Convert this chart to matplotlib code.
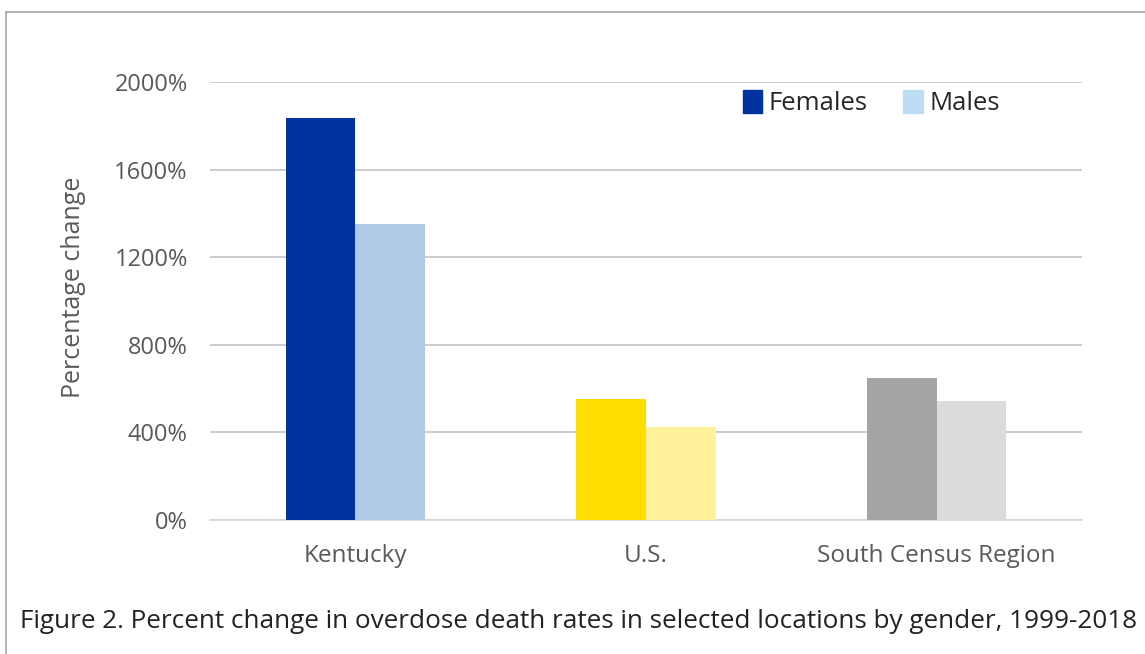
import matplotlib.pyplot as plt
import numpy as np
from matplotlib.patches import Patch

plt.rcParams['font.family'] = ['Open Sans', 'DejaVu Sans']

locations = ['Kentucky', 'U.S.', 'South Census Region']
females = [1835, 552, 648]
males = [1352, 425, 543]
female_colors = ['#0033a0', '#ffdd00', '#a5a5a5']
male_colors = ['#b0cae8', '#fff29a', '#dbdbdd']
yticks = [0, 400, 800, 1200, 1600, 2000]

fig = plt.figure(figsize=(11.45, 6.54), dpi=100)
ax = fig.add_axes([210 / 1145, 1 - 520 / 654, 872 / 1145, 438 / 654])

x = np.arange(len(locations))
w = 0.24
ax.bar(x - w / 2, females, w, color=female_colors, zorder=3)
ax.bar(x + w / 2, males, w, color=male_colors, zorder=3)

ax.set_xlim(-0.5, 2.5)
ax.set_ylim(0, 2000)
ax.set_yticks(yticks)
ax.set_yticklabels(['%d%%' % t for t in yticks])
ax.set_xticks(x)
ax.set_xticklabels(locations)
ax.grid(axis='y', color='#c8c8c8', linewidth=1.3, zorder=0)
for s in ['top', 'right', 'left']:
    ax.spines[s].set_visible(False)
ax.spines['bottom'].set_color('#d9d9d9')
ax.spines['bottom'].set_linewidth(1.3)
ax.tick_params(axis='y', length=0, labelsize=17, colors='#595959', pad=16)
ax.tick_params(axis='x', length=0, labelsize=17.5, colors='#595959', pad=17)
ax.set_ylabel('Percentage change', fontsize=18, color='#595959')
ax.yaxis.set_label_coords(-124 / 872, (520 - 287) / 438)

handles = [Patch(color='#0033a0', label='Females'), Patch(color='#bdddf2', label='Males')]
ax.legend(handles=handles, loc='upper right', bbox_to_anchor=(0.932, 1.035), ncol=2,
          frameon=False, fontsize=18.5, handlelength=0.75, handleheight=1.0,
          handletextpad=0.25, columnspacing=1.4, labelcolor='#262626')

fig.text(20 / 1145, 1 - 622 / 654, 'Figure 2. Percent change in overdose death rates in selected locations by gender, 1999-2018',
         fontsize=18.8, color='#222222', va='center')

# frame (left and top edges)
fig.add_artist(plt.Line2D([6 / 1145, 6 / 1145], [0, 1 - 12 / 654], color='#a6a6a6', linewidth=1.2))
fig.add_artist(plt.Line2D([6 / 1145, 1], [1 - 12 / 654, 1 - 12 / 654], color='#a6a6a6', linewidth=1.2))

fig.savefig('out.png', dpi=100)
